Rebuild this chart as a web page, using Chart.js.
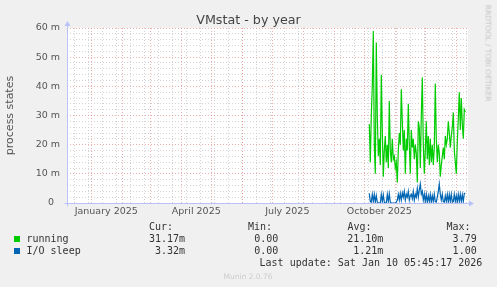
<!DOCTYPE html>
<html>
<head>
<meta charset="utf-8">
<script src="https://cdn.jsdelivr.net/npm/chart.js@4.4.1/dist/chart.umd.min.js"></script>
<style>
  html, body { margin:0; padding:0; background:#f0f0f0; }
  #wrap { position:relative; width:497px; height:287px; overflow:hidden; background:#f0f0f0; }
  #c { position:absolute; left:0; top:0; }
  .t { position:absolute; white-space:pre; font-family:"DejaVu Sans Mono", monospace; font-size:10px; line-height:12px; color:#333; }
  .r { text-align:right; }
  .sq { position:absolute; width:6px; height:6px; }
</style>
</head>
<body>
<div id="wrap">
  <canvas id="c" width="497" height="287"></canvas>
  <div id="title" style="position:absolute;left:0;width:497px;top:11.5px;text-align:center;font-family:'DejaVu Sans';font-size:12.7px;line-height:16px;color:#444;">VMstat - by year</div>
  <div style="position:absolute;left:488px;top:52.7px;transform:translate(-50%,-50%) rotate(90deg);white-space:pre;font-family:'DejaVu Sans';font-size:7.5px;line-height:9px;color:#c4c4c4;">RRDTOOL / TOBI OETIKER</div>

  <div class="t" style="left:149px;top:220.7px;">Cur:</div>
  <div class="t" style="left:248px;top:220.7px;">Min:</div>
  <div class="t" style="left:347.5px;top:220.7px;">Avg:</div>
  <div class="t" style="left:446.5px;top:220.7px;">Max:</div>

  <div class="sq" style="left:14px;top:236px;background:#00CC00;"></div>
  <div class="t" style="left:26.5px;top:233.3px;">running</div>
  <div class="t r" style="right:312px;top:233.3px;">31.17m</div>
  <div class="t r" style="right:218.7px;top:233.3px;">0.00</div>
  <div class="t r" style="right:113.7px;top:233.3px;">21.10m</div>
  <div class="t r" style="right:20.3px;top:233.3px;">3.79</div>

  <div class="sq" style="left:14px;top:248px;background:#0066B3;"></div>
  <div class="t" style="left:26.5px;top:245px;">I/O sleep</div>
  <div class="t r" style="right:312px;top:245px;">3.32m</div>
  <div class="t r" style="right:218.7px;top:245px;">0.00</div>
  <div class="t r" style="right:113.7px;top:245px;">1.21m</div>
  <div class="t r" style="right:20.3px;top:245px;">1.00</div>

  <div class="t r" style="right:14.7px;top:256.7px;">Last update: Sat Jan 10 05:45:17 2026</div>
  <div style="position:absolute;left:0;width:496px;top:272px;text-align:center;font-family:'DejaVu Sans';font-size:7.5px;line-height:9px;color:#cccccc;">Munin 2.0.76</div>
</div>
<script>
// Day numbers relative to 1 January 2025 (day 0)
const days = [
  278,279,280,281,282,283,284,285,286,287,288,289,290,291,292,293,294,295,296,297,
  298,299,300,301,302,303,304,305,306,307,308,309,310,311,312,313,314,315,316,317,
  318,319,320,321,322,323,324,325,326,327,328,329,330,331,332,333,334,335,336,337,
  338,339,340,341,342,343,344,345,346,347,348,349,350,351,352,353,354,355,356,357,
  358,359,360,361,362,363,364,365,366,367,368,369,370,371,372,373,374
];
// running (milli)
const running = [
  27,14,30,40,59,20,10,55,30,16,22,13,44,25,9,18,23,14,20,12,
  35,18,14,22,15,16,12,14,7,18,24,20,39,28,18,25,10,22,18,34,
  20,10,25,19,22,15,20,17,7,28,26,12,30,43,20,10,18,28,15,23,
  13,22,14,20,13,19,41,22,14,20,17,9,13,16,19,15,23,20,22,28,
  24,19,23,26,31,18,14,10,21,29,38,25,36,27,22,32,31.17
];
// I/O sleep (milli)
const ioSleep = [
  3.3,0.5,0.3,3,0.5,3,0.3,2.5,0.3,0,0,0,3,0.5,2.8,0.3,0,0,3,0.5,
  3.2,0.3,0,0,0,0,0,0.3,1,3,1,3.3,1,3.5,2,4,1,3,2,4,
  1,2.5,3,1.5,4,1,3,2,5,2,4.5,6.5,3,4,1,3,0.5,3,0.3,2.5,
  0.5,3,0.3,2.5,0.5,3,0.5,0.3,2,4,6.5,3,1,3,0.5,0.3,2.5,0.5,3,0.3,
  3,0.5,3,0.3,0.5,3,0.5,2.5,0.3,3,0.5,3,0.5,2.8,0.5,3.3,3.32
];
// x-axis: month starts (major grid), bi-weekly minor grid, label positions
const monthStarts = [0,31,59,90,120,151,181,212,243,273,304,334,365];
const minorDays = [-17,-3,11,25,39,53,67,81,95,109,123,137,151,165,179,193,207,221,235,249,263,277,291,305,319,333,347,361,375];
const labelDays = [15,105,196,288];
const xLabels = ['January 2025','April 2025','July 2025','October 2025'];
// y-axis
const yMajor = [0,10,20,30,40,50,60];
const yLabels = ['0\u2007','10 m','20 m','30 m','40 m','50 m','60 m'];

const RED = 'rgba(230,140,140,0.7)';
const GREY = 'rgba(205,205,205,0.85)';

const runPts = days.map((d,i)=>({x:d, y:running[i]}));
const ioPts = days.map((d,i)=>({x:d, y:ioSleep[i]}));

const bgPlugin = {
  id:'bg',
  beforeDraw(chart){
    const {ctx, chartArea:a} = chart;
    ctx.save();
    ctx.fillStyle = '#ffffff';
    ctx.fillRect(a.left, a.top, a.right-a.left, a.bottom-a.top);
    ctx.restore();
  },
  afterDraw(chart){
    const {ctx, chartArea:a} = chart;
    ctx.save();
    const col = 'rgba(180,190,250,0.9)';
    ctx.strokeStyle = col; ctx.fillStyle = col; ctx.lineWidth = 1;
    const x0 = Math.round(a.left)+0.5, y0 = Math.round(a.bottom)+0.5;
    ctx.beginPath();
    ctx.moveTo(x0, y0+3); ctx.lineTo(x0, a.top-3);
    ctx.moveTo(x0-3, y0); ctx.lineTo(a.right+2, y0);
    ctx.stroke();
    ctx.beginPath();
    ctx.moveTo(x0-3, a.top-2); ctx.lineTo(x0+3, a.top-2); ctx.lineTo(x0, a.top-7); ctx.closePath(); ctx.fill();
    ctx.beginPath();
    ctx.moveTo(a.right+1, y0-3); ctx.lineTo(a.right+1, y0+3); ctx.lineTo(a.right+6, y0); ctx.closePath(); ctx.fill();
    ctx.restore();
  }
};

Chart.defaults.font.family = 'DejaVu Sans';
Chart.defaults.color = '#555';

new Chart(document.getElementById('c'), {
  type:'line',
  data:{
    datasets:[
      {label:'I/O sleep', data:ioPts, borderColor:'#0066B3', borderWidth:1.2, pointRadius:0, fill:false, tension:0, order:1},
      {label:'running', data:runPts, borderColor:'#00CC00', borderWidth:1.2, pointRadius:0, fill:false, tension:0, order:2}
    ]
  },
  options:{
    responsive:false, animation:false, devicePixelRatio:1,
    layout:{padding:{top:28, right:29, left:0, bottom:0}},
    plugins:{legend:{display:false}, tooltip:{enabled:false}, title:{display:false}},
    scales:{
      x:{
        type:'linear', min:-24.3, max:376.7,
        afterFit(s){ s.height = 84; },
        afterBuildTicks(s){
          const all = [...monthStarts, ...minorDays, ...labelDays].filter(v=>v>=-24.3 && v<=376.7);
          s.ticks = all.map(v=>({value:v}));
        },
        ticks:{
          autoSkip:false, maxRotation:0, padding:3,
          font:{size:9.5},
          callback(v){ const i = labelDays.indexOf(v); return i>=0 ? xLabels[i] : ''; }
        },
        grid:{
          drawTicks:false, lineWidth:1,
          color(ctx){
            const v = ctx.tick ? ctx.tick.value : null;
            if (labelDays.includes(v)) return 'rgba(0,0,0,0)';
            if (monthStarts.includes(v)) return RED;
            return GREY;
          }
        },
        border:{display:false, dash:[1,2]}
      },
      y:{
        type:'linear', min:0, max:60,
        afterFit(s){ s.width = 67; },
        afterBuildTicks(s){
          const t = [];
          for (let v=0; v<=60; v+=2) t.push({value:v});
          s.ticks = t;
        },
        ticks:{
          autoSkip:false, padding:7, font:{size:9.5},
          callback(v){ const i = yMajor.indexOf(v); return i>=0 ? yLabels[i] : ''; }
        },
        grid:{
          drawTicks:false, lineWidth:1,
          color(ctx){
            const v = ctx.tick ? ctx.tick.value : null;
            return (v!==null && v%10===0) ? RED : GREY;
          }
        },
        border:{display:false, dash:[1,2]},
        title:{display:true, text:'process states', font:{size:11}, color:'#555', padding:{top:4,bottom:0}}
      }
    }
  },
  plugins:[bgPlugin]
});
</script>
</body>
</html>
